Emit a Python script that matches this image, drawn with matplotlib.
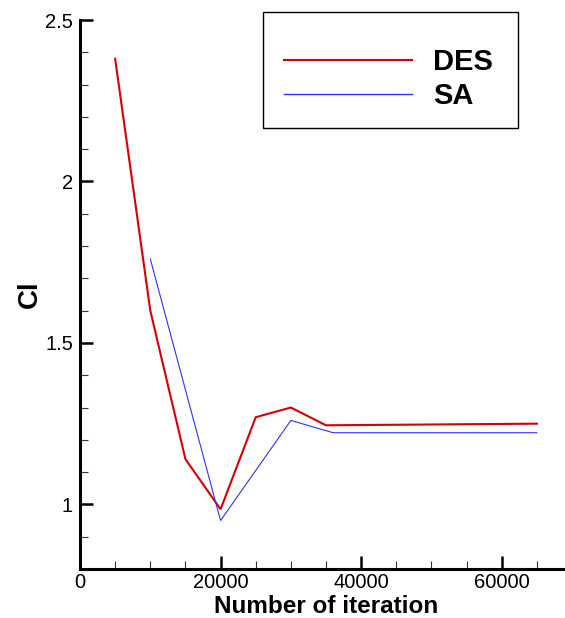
import matplotlib
matplotlib.use("Agg")
import matplotlib.pyplot as plt
from matplotlib.ticker import MultipleLocator, FixedLocator, FuncFormatter
from matplotlib.lines import Line2D
from matplotlib.patches import Rectangle

plt.rcParams['font.family'] = ['Liberation Sans', 'DejaVu Sans']

# Lift coefficient history for the two turbulence models
des_iter = [5000, 10000, 15000, 20000, 25000, 30000, 35000, 65000]
des_cl = [2.38, 1.60, 1.14, 0.985, 1.27, 1.30, 1.245, 1.25]
sa_iter = [10000, 20000, 30000, 36000, 65000]
sa_cl = [1.76, 0.95, 1.26, 1.222, 1.222]
series_names = ['DES', 'SA']
x_ticks = [0, 20000, 40000, 60000]
y_ticks = [1, 1.5, 2, 2.5]
x_label = 'Number of iteration'
y_label = 'Cl'

W, H = 565, 618
fig = plt.figure(figsize=(W / 100, H / 100), dpi=100)


def fx(px):
    return px / W


def fy(py):
    return 1 - py / H


ax = fig.add_axes([fx(80), fy(569), fx(565) - fx(80), fy(20) - fy(569)])

red = '#d90000'
blue = '#2f2fff'
ax.plot(des_iter, des_cl, color=red, lw=1.5, solid_joinstyle='miter')
ax.plot(sa_iter, sa_cl, color=blue, lw=0.8, solid_joinstyle='miter')

ax.set_xlim(0, 69000)
ax.set_ylim(0.8, 2.5)

ax.xaxis.set_major_locator(FixedLocator(x_ticks))
ax.yaxis.set_major_locator(FixedLocator(y_ticks))
ax.xaxis.set_minor_locator(MultipleLocator(5000))
ax.yaxis.set_minor_locator(MultipleLocator(0.1))
fmt = FuncFormatter(lambda v, p: '%g' % v)
ax.xaxis.set_major_formatter(fmt)
ax.yaxis.set_major_formatter(fmt)

for side in ('top', 'right'):
    ax.spines[side].set_visible(False)
for side in ('left', 'bottom'):
    ax.spines[side].set_linewidth(2.2)
    ax.spines[side].set_capstyle('projecting')

ax.tick_params(which='major', direction='in', length=9.5, width=1.8,
               labelsize=14.5, color='black')
ax.tick_params(which='minor', direction='in', length=6, width=0.8,
               color='#333333')
ax.tick_params(axis='x', which='major', pad=3)
ax.tick_params(axis='y', which='major', pad=5)

# Axis titles
fig.text(fx(326), fy(618), x_label, fontsize=17.5, fontweight='bold',
         ha='center', va='bottom')
fig.text(fx(37), fy(294), y_label, fontsize=20, fontweight='bold',
         rotation=90, rotation_mode='anchor', ha='center', va='baseline')

# Legend box
fig.add_artist(Rectangle((fx(262.5), fy(127.5)), fx(517.5) - fx(262.5),
                         fy(12.5) - fy(127.5), transform=fig.transFigure,
                         fill=False, edgecolor='black', lw=1.0))
for name, col, lw, ly, ty in [(series_names[0], red, 1.5, 60, 70.5),
                              (series_names[1], blue, 1.0, 94.3, 104)]:
    fig.add_artist(Line2D([fx(284), fx(412)], [fy(ly), fy(ly)],
                          transform=fig.transFigure, color=col, lw=lw))
    fig.text(fx(433), fy(ty), name, fontsize=21, fontweight='bold',
             ha='left', va='baseline')

fig.savefig('out.png', dpi=100)
